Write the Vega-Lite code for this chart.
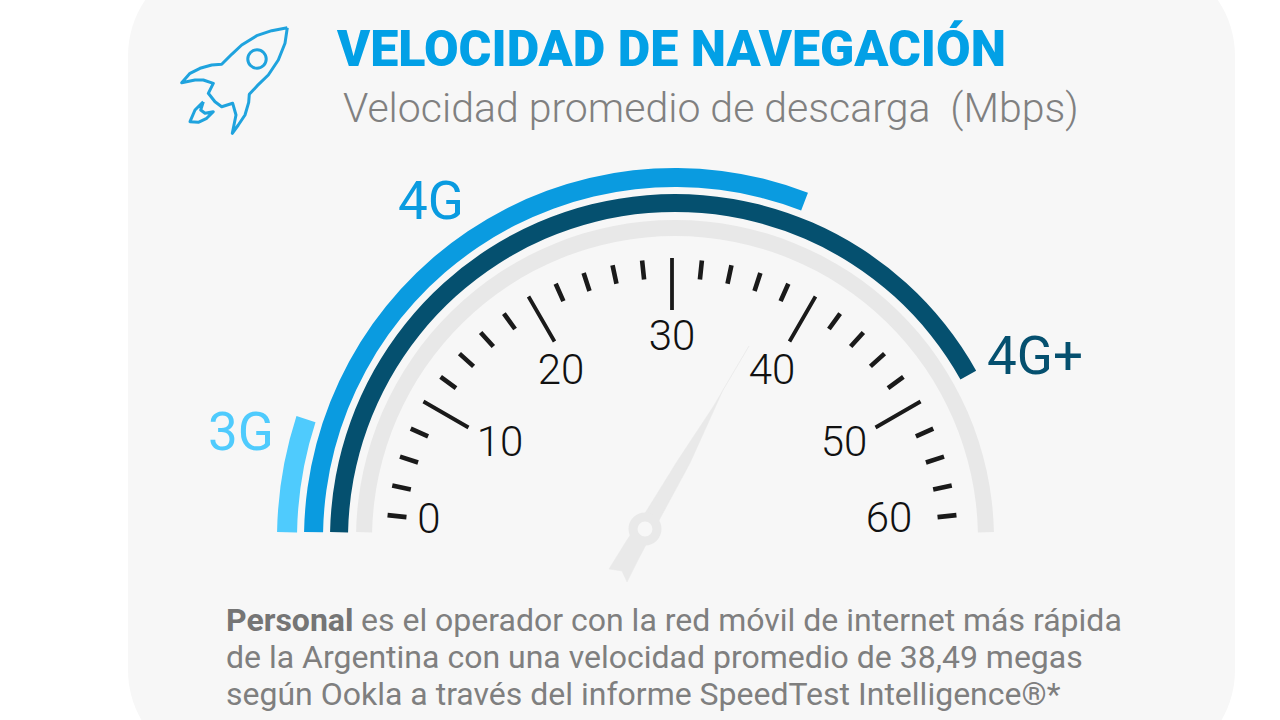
{
"$schema":"https://vega.github.io/schema/vega-lite/v6.json",
"width":1280,"height":720,"autosize":"none","padding":0,"background":"#ffffff",
"config":{"view":{"stroke":null},"axis":{"domain":false}},
"datasets":{
"panel":[{"x":128,"x2":1235,"y":-44,"y2":770}],
"needle":[{"o":1,"x":749,"y":346},{"o":2,"x":723,"y":390},{"o":3,"x":690,"y":463},{"o":4,"x":663,"y":513},{"o":5,"x":639,"y":558},{"o":6,"x":627,"y":582},{"o":7,"x":622,"y":571},{"o":8,"x":609,"y":569},{"o":9,"x":627,"y":540},{"o":10,"x":647,"y":510},{"o":11,"x":678,"y":460},{"o":12,"x":713,"y":407},{"o":13,"x":749,"y":346}],
"hub":[{"x":645,"y":529}],
"arcs":[{"red":"3G","desde":-89,"hasta":-72},{"red":"4G","desde":-88.9,"hasta":21},{"red":"4G+","desde":-88.84,"hasta":60.8},{"red":"base","desde":-88.75,"hasta":88.75}],
"major":[{"v":10},{"v":20},{"v":30},{"v":40},{"v":50}],
"minor":[{"v":0},{"v":2.5},{"v":5},{"v":7.5},{"v":12},{"v":14},{"v":16},{"v":18},{"v":22},{"v":24},{"v":26},{"v":28},{"v":32},{"v":34},{"v":36},{"v":38},{"v":42},{"v":44},{"v":46},{"v":48},{"v":52.5},{"v":55},{"v":57.5},{"v":60}],
"labels":[{"t":"0","x":429,"y":520},{"t":"10","x":500,"y":443},{"t":"20","x":561,"y":371},{"t":"30","x":672,"y":337},{"t":"40","x":772,"y":371},{"t":"50","x":844,"y":443},{"t":"60","x":889,"y":519}],
"rocket":[{"o":1,"x":287.3,"y":27.7},{"o":2,"x":285,"y":43.3},{"o":3,"x":278.3,"y":60},{"o":4,"x":268.3,"y":75},{"o":5,"x":257.3,"y":85.7},{"o":6,"x":249.3,"y":94.3},{"o":7,"x":248.7,"y":102.3},{"o":8,"x":245,"y":115},{"o":9,"x":238.3,"y":125},{"o":10,"x":232.3,"y":133.3},{"o":11,"x":236,"y":115},{"o":12,"x":232.7,"y":103.3},{"o":13,"x":221.7,"y":106.7},{"o":14,"x":215,"y":101.7},{"o":15,"x":208.3,"y":93.3},{"o":16,"x":213.3,"y":83.3},{"o":17,"x":203.3,"y":80},{"o":18,"x":195,"y":80},{"o":19,"x":181.7,"y":82.7},{"o":20,"x":190,"y":73.3},{"o":21,"x":200,"y":68.3},{"o":22,"x":211.7,"y":65},{"o":23,"x":221.7,"y":64.3},{"o":24,"x":231.7,"y":54.3},{"o":25,"x":241.7,"y":45},{"o":26,"x":256.7,"y":35.7},{"o":27,"x":271.7,"y":30.7},{"o":28,"x":287.3,"y":27.7}],
"flame":[{"o":1,"x":203.3,"y":101.7},{"o":2,"x":195,"y":110},{"o":3,"x":190,"y":121.7},{"o":4,"x":198.3,"y":122.3},{"o":5,"x":206.7,"y":118.3},{"o":6,"x":213.3,"y":111.7},{"o":7,"x":205,"y":113.3},{"o":8,"x":200.7,"y":110},{"o":9,"x":203.3,"y":101.7}]
},
"resolve":{"scale":{"theta":"independent","radius":"independent"}},
"layer":[
{"data":{"name":"panel"},"mark":{"type":"rect","fill":"#f7f7f7","cornerRadius":100},
 "encoding":{"x":{"field":"x","type":"quantitative","axis":null,"scale":{"domain":[0,1280],"nice":false,"zero":false}},"x2":{"field":"x2"},"y":{"field":"y","type":"quantitative","axis":null,"scale":{"domain":[720,0],"nice":false,"zero":false}},"y2":{"field":"y2"}}},
{"data":{"name":"needle"},"mark":{"type":"line","fill":"#e9e9e9","stroke":"#e9e9e9","strokeWidth":0.5},
 "encoding":{"x":{"field":"x","type":"quantitative"},"y":{"field":"y","type":"quantitative"},"order":{"field":"o"}}},
{"data":{"name":"hub"},"mark":{"type":"point","shape":"circle","filled":false,"fill":"#f7f7f7","fillOpacity":1,"stroke":"#e9e9e9","strokeWidth":9,"opacity":1,"size":572},
 "encoding":{"x":{"field":"x","type":"quantitative"},"y":{"field":"y","type":"quantitative"}}},
{"data":{"name":"arcs"},"transform":[{"filter":"datum.red==='base'"}],"mark":{"type":"arc","fill":"#e8e8e8"},
 "encoding":{"x":{"datum":675,"type":"quantitative"},"y":{"datum":539,"type":"quantitative"},"theta":{"field":"desde","type":"quantitative","scale":{"type":"linear","domain":[-90,90],"range":[-1.5708,1.5708]}},"theta2":{"field":"hasta"},"radius":{"datum":319,"type":"quantitative","scale":{"type":"linear","domain":[0,720],"range":[0,720]}},"radius2":{"datum":303}}},
{"data":{"name":"arcs"},"transform":[{"filter":"datum.red==='4G+'"}],"mark":{"type":"arc","fill":"#05506f"},
 "encoding":{"x":{"datum":675,"type":"quantitative"},"y":{"datum":539,"type":"quantitative"},"theta":{"field":"desde","type":"quantitative","scale":{"type":"linear","domain":[-90,90],"range":[-1.5708,1.5708]}},"theta2":{"field":"hasta"},"radius":{"datum":345,"type":"quantitative","scale":{"type":"linear","domain":[0,720],"range":[0,720]}},"radius2":{"datum":327}}},
{"data":{"name":"arcs"},"transform":[{"filter":"datum.red==='4G'"}],"mark":{"type":"arc","fill":"#0a9be0"},
 "encoding":{"x":{"datum":675,"type":"quantitative"},"y":{"datum":539,"type":"quantitative"},"theta":{"field":"desde","type":"quantitative","scale":{"type":"linear","domain":[-90,90],"range":[-1.5708,1.5708]}},"theta2":{"field":"hasta"},"radius":{"datum":371,"type":"quantitative","scale":{"type":"linear","domain":[0,720],"range":[0,720]}},"radius2":{"datum":352}}},
{"data":{"name":"arcs"},"transform":[{"filter":"datum.red==='3G'"}],"mark":{"type":"arc","fill":"#4fcbfd"},
 "encoding":{"x":{"datum":675,"type":"quantitative"},"y":{"datum":539,"type":"quantitative"},"theta":{"field":"desde","type":"quantitative","scale":{"type":"linear","domain":[-90,90],"range":[-1.5708,1.5708]}},"theta2":{"field":"hasta"},"radius":{"datum":398,"type":"quantitative","scale":{"type":"linear","domain":[0,720],"range":[0,720]}},"radius2":{"datum":378}}},
{"data":{"name":"major"},"mark":{"type":"arc","stroke":"#1a1a1a","strokeWidth":3.8,"fill":null},
 "encoding":{"x":{"datum":672,"type":"quantitative"},"y":{"datum":545,"type":"quantitative"},"theta":{"field":"v","type":"quantitative","scale":{"type":"linear","domain":[0,10,50,60],"range":[-1.46608,-1.0472,1.0472,1.46608]}},"theta2":{"field":"v"},"radius":{"datum":287,"type":"quantitative","scale":{"type":"linear","domain":[0,720],"range":[0,720]}},"radius2":{"datum":235}}},
{"data":{"name":"minor"},"mark":{"type":"arc","stroke":"#1a1a1a","strokeWidth":4.6,"fill":null},
 "encoding":{"x":{"datum":672,"type":"quantitative"},"y":{"datum":545,"type":"quantitative"},"theta":{"field":"v","type":"quantitative","scale":{"type":"linear","domain":[0,10,50,60],"range":[-1.46608,-1.0472,1.0472,1.46608]}},"theta2":{"field":"v"},"radius":{"datum":286,"type":"quantitative","scale":{"type":"linear","domain":[0,720],"range":[0,720]}},"radius2":{"datum":267}}},
{"data":{"name":"labels"},"mark":{"type":"text","font":"Roboto","fontWeight":300,"fontSize":42,"fill":"#111111","align":"center","baseline":"middle"},
 "encoding":{"x":{"field":"x","type":"quantitative"},"y":{"field":"y","type":"quantitative"},"text":{"field":"t"}}},
{"data":{"values":[{"t":"VELOCIDAD DE NAVEGACIÓN","x":337,"y":66}]},"mark":{"type":"text","font":"Roboto","fontWeight":900,"fontSize":50.2,"fill":"#02a0e6","align":"left","baseline":"alphabetic"},
 "encoding":{"x":{"field":"x","type":"quantitative"},"y":{"field":"y","type":"quantitative"},"text":{"field":"t"}}},
{"data":{"values":[{"t":"Velocidad promedio de descarga \u00a0(Mbps)","x":343,"y":122}]},"mark":{"type":"text","font":"Roboto","fontWeight":300,"fontSize":41,"fill":"#808080","align":"left","baseline":"alphabetic"},
 "encoding":{"x":{"field":"x","type":"quantitative"},"y":{"field":"y","type":"quantitative"},"text":{"field":"t"}}},
{"data":{"values":[{"t":"3G","x":208,"y":450,"c":"#4fcbfd"},{"t":"4G","x":398,"y":219,"c":"#0a9be0"},{"t":"4G+","x":987,"y":374,"c":"#05506f"}]},"mark":{"type":"text","font":"Roboto","fontWeight":"normal","fontSize":53,"align":"left","baseline":"alphabetic"},
 "encoding":{"x":{"field":"x","type":"quantitative"},"y":{"field":"y","type":"quantitative"},"text":{"field":"t"},"color":{"field":"c","type":"nominal","scale":null}}},
{"data":{"values":[{"t":"Personal","x":226,"y":631}]},"mark":{"type":"text","font":"Roboto","fontWeight":"bold","fontSize":32,"fill":"#757575","align":"left","baseline":"alphabetic"},
 "encoding":{"x":{"field":"x","type":"quantitative"},"y":{"field":"y","type":"quantitative"},"text":{"field":"t"}}},
{"data":{"values":[{"t":"es el operador con la red móvil de internet más rápida","x":361,"y":631},{"t":"de la Argentina con una velocidad promedio de 38,49 megas","x":226,"y":668},{"t":"según Ookla a través del informe SpeedTest Intelligence®*","x":226,"y":705}]},"mark":{"type":"text","font":"Roboto","fontWeight":"normal","fontSize":32,"fill":"#7f7f7f","align":"left","baseline":"alphabetic"},
 "encoding":{"x":{"field":"x","type":"quantitative"},"y":{"field":"y","type":"quantitative"},"text":{"field":"t"}}},
{"data":{"name":"rocket"},"mark":{"type":"line","stroke":"#1fa3de","strokeWidth":3,"strokeJoin":"round"},
 "encoding":{"x":{"field":"x","type":"quantitative"},"y":{"field":"y","type":"quantitative"},"order":{"field":"o"}}},
{"data":{"name":"flame"},"mark":{"type":"line","stroke":"#1fa3de","strokeWidth":3,"strokeJoin":"round"},
 "encoding":{"x":{"field":"x","type":"quantitative"},"y":{"field":"y","type":"quantitative"},"order":{"field":"o"}}},
{"data":{"values":[{"x":257,"y":59}]},"mark":{"type":"point","shape":"circle","filled":false,"stroke":"#1fa3de","strokeWidth":3,"opacity":1,"size":340},
 "encoding":{"x":{"field":"x","type":"quantitative"},"y":{"field":"y","type":"quantitative"}}}
]
}
